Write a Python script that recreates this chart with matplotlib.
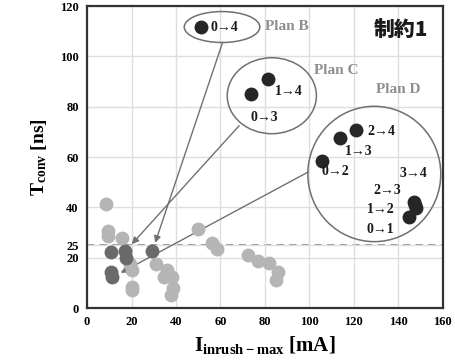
import matplotlib.pyplot as plt
from matplotlib.patches import Ellipse

plt.rcParams["font.family"] = ["Liberation Serif", "DejaVu Serif"]
plt.rcParams["font.weight"] = "bold"
plt.rcParams["mathtext.fontset"] = "custom"
plt.rcParams["mathtext.rm"] = "Liberation Serif:bold"
plt.rcParams["mathtext.bf"] = "Liberation Serif:bold"
plt.rcParams["mathtext.it"] = "Liberation Serif:bold"

# other plans (light gray)
other_x = [8.5, 9.6, 9.3, 15.9, 19.3, 20.1, 20.4, 20.4, 31.0, 35.8, 34.6, 38.0,
           38.8, 37.8, 49.7, 56.0, 58.3, 72.2, 77.0, 81.8, 86.0, 85.0]
other_y = [41.3, 30.7, 28.7, 27.9, 17.7, 15.1, 8.5, 7.1, 17.5, 15.1, 12.2, 12.2,
           7.8, 5.2, 31.6, 26.0, 23.3, 21.0, 18.8, 18.1, 14.4, 11.1]

# targets of the arrows (dark gray)
target_x = [10.6, 17.1, 17.5, 29.4, 10.6, 11.1]
target_y = [22.3, 22.6, 19.7, 22.6, 14.4, 12.2]

# transitions (black)
trans_x = [51.2, 81.2, 73.7, 120.9, 113.7, 105.5, 147.0, 147.4, 147.9, 144.9]
trans_y = [111.6, 90.9, 85.2, 70.9, 67.7, 58.5, 42.2, 40.9, 39.6, 36.0]

# transition labels and positions
trans_labels = ["0→4", "1→4", "0→3", "2→4", "1→3", "0→2", "3→4", "2→3", "1→2", "0→1"]
label_x = [55.5, 84.5, 73.6, 126.3, 116.0, 105.5, 140.7, 128.7, 125.7, 125.7]
label_y = [111.6, 86.2, 75.9, 70.2, 62.4, 54.1, 53.5, 46.8, 39.2, 31.3]

fig, ax = plt.subplots(figsize=(4.56, 3.62), dpi=100)
fig.subplots_adjust(left=0.191, right=0.971, bottom=0.149, top=0.983)

ax.set_xlim(0, 160)
ax.set_ylim(0, 120)
ax.set_xticks(range(0, 161, 20))
ax.set_yticks([0, 20, 25, 40, 60, 80, 100, 120])
ax.grid(True, color="#dedede", lw=1.0, zorder=0)
ax.tick_params(length=0, labelsize=9, pad=6)
for lab in ax.get_xticklabels() + ax.get_yticklabels():
    lab.set_fontweight("bold")
for sp in ax.spines.values():
    sp.set_color("#333333")
    sp.set_linewidth(1.6)

ax.axhline(25, color="#888888", lw=1.3, ls=(0, (4, 3)), zorder=1)

ax.scatter(other_x, other_y, s=100, color="#b5b5b5", zorder=3, lw=0)
ax.scatter(target_x, target_y, s=100, color="#6a6a6a", zorder=3, lw=0)
ax.scatter(trans_x, trans_y, s=100, color="#262626", zorder=4, lw=0)

for t, x, y in zip(trans_labels, label_x, label_y):
    ax.text(x, y, t, fontsize=10, fontweight="bold", va="center", ha="left",
            color="#1a1a1a", zorder=5)

edge = "#707070"
ax.add_patch(Ellipse((60.7, 111.7), 34, 12.3, fc="none", ec=edge, lw=1.1, zorder=2))
ax.add_patch(Ellipse((83.1, 84.4), 40.1, 30.2, fc="none", ec=edge, lw=1.1, zorder=2))
ax.add_patch(Ellipse((129.2, 53.3), 59.8, 53.8, fc="none", ec=edge, lw=1.1, zorder=2))

arrow = dict(arrowstyle="-|>", color=edge, lw=1.0, mutation_scale=10,
             shrinkA=0, shrinkB=0)
ax.annotate("", xy=(30.6, 25.9), xytext=(61.0, 105.7), arrowprops=arrow, zorder=2)
ax.annotate("", xy=(20.1, 25.4), xytext=(68.4, 72.5), arrowprops=arrow, zorder=2)
ax.annotate("", xy=(15.1, 14.0), xytext=(99.5, 54.1), arrowprops=arrow, zorder=2)

plan_color = "#8f8f8f"
ax.text(80, 112, "Plan B", fontsize=11, fontweight="bold", color=plan_color, va="center")
ax.text(102, 94.5, "Plan C", fontsize=11, fontweight="bold", color=plan_color, va="center")
ax.text(130, 87, "Plan D", fontsize=11, fontweight="bold", color=plan_color, va="center")
ax.text(141, 110.5, "制約1", fontsize=15, fontweight="heavy", color="#1a1a1a",
        ha="center", va="center", family=["Noto Sans CJK JP", "DejaVu Sans"])

ax.set_xlabel(r"$\mathbf{I}_{\mathbf{inrush-max}}$ [mA]", fontsize=15, fontweight="bold",
              labelpad=4)
ax.set_ylabel(r"$\mathbf{T}_{\mathbf{conv}}$ [ns]", fontsize=14, fontweight="bold",
              labelpad=8)

plt.savefig("out.png", dpi=100)
